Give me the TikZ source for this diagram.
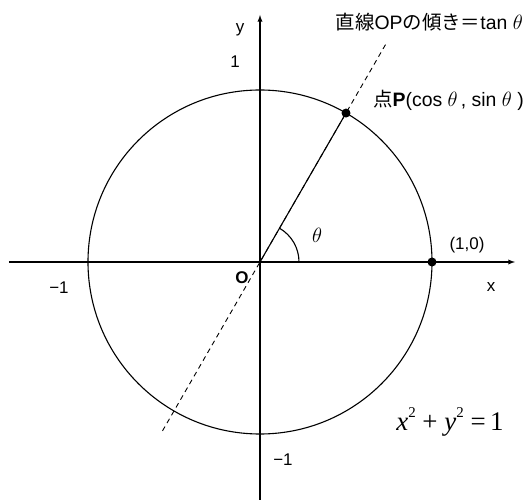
\documentclass[tikz,border=0pt]{standalone}
\usepackage{fontspec}
\setmainfont{Liberation Sans}
\newfontfamily\jpfont{Noto Sans CJK JP}
\newfontfamily\eqfont{Liberation Serif}
\usetikzlibrary{arrows,positioning,calc}
\newcommand{\sq}{\raisebox{0.5em}{\fontsize{15}{15}\selectfont 2}}

\begin{document}
\begin{tikzpicture}[x=1bp, y=1bp]
\tikzstyle{axis} = [line width=1.3bp,->,>=latex]
\tikzstyle{curve} = [line width=1.1bp]
\tikzstyle{guide} = [line width=0.9bp, dash pattern=on 5bp off 4bp]
\tikzstyle{dot} = [circle, fill=black, inner sep=0pt, minimum size=9bp]
\tikzstyle{label} = [inner sep=1pt, font=\fontsize{17}{19}\selectfont]
\tikzstyle{note} = [inner sep=1pt, font=\fontsize{19.5}{22}\selectfont]

\useasboundingbox (-260,-238) rectangle (269,262);

% axes
\coordinate (O) at (0,0);
\coordinate (xmin) at (-251,0);
\coordinate (xmax) at (255,0);
\coordinate (ymin) at (0,-238);
\coordinate (ymax) at (0,247);
\draw [axis] (xmin) -- (xmax);
\draw [axis] (ymin) -- (ymax);

% unit circle and line OP
\draw [curve] (O) circle (172);
\coordinate (P) at (60:172);
\coordinate (top) at (60:255);
\coordinate (bottom) at (240:195);
\draw [guide] (bottom) -- (top);
\draw [curve] (O) -- (P);
\draw [curve] (39,0) arc (0:60:39);
\node (pdot) [dot] at (P) {};
\node (adot) [dot] at (172,0) {};

% labels
\node (ylabel) [label] at (-20,232) {y};
\node (yone) [label] at (-25,200) {1};
\node (xlabel) [label] at (231,-25) {x};
\node (xminus) [label] at (-201,-26) {−1};
\node (yminus) [label] at (23,-198) {−1};
\node (origin) [label, font=\fontsize{17}{19}\selectfont\bfseries] at (-18,-16) {O};
\node (theta) [label, font=\fontsize{21}{23}\selectfont] at (57,27) {$\theta$};
\node (apoint) [label] at (207,17) {(1,0)};
\node (ppoint) [note, anchor=west] at (112,162) {{\jpfont 点}\textbf{P}(cos $\theta$\,, sin $\theta$\ )};
\node (slope) [note, anchor=east] at (264,240) {{\jpfont 直線}OP{\jpfont の傾き＝}tan $\theta$};
\node (eqn) [inner sep=0pt, font=\fontsize{27}{30}\selectfont\eqfont] at (190,-160) {\textit{x}\sq\ + \textit{y}\sq\ =\,1};
\end{tikzpicture}
\end{document}
